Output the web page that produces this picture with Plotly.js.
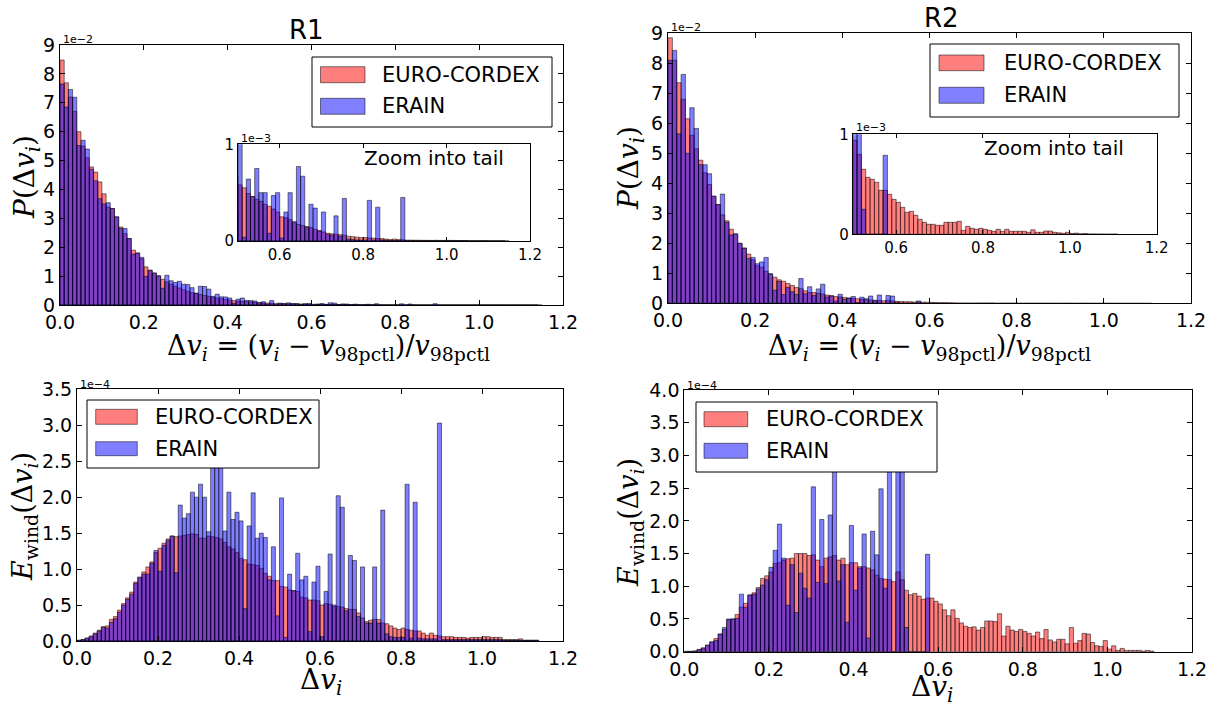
<!DOCTYPE html>
<html>
<head>
<meta charset="utf-8">
<script src="https://cdn.plot.ly/plotly-3.0.1.min.js"></script>
<style>
html,body{margin:0;padding:0;background:#fff;}
#chart{width:1217px;height:709px;}
</style>
</head>
<body>
<div id="chart"></div>
<script>
// ---------------- data ----------------
// Histogram bins: width 0.01 starting at 0.0 (bin k covers [0.01k, 0.01(k+1)))
const bin_width = 0.01;
const bin_start = 0.0;

const series_names = ['EURO-CORDEX', 'ERAIN'];

// R1: P(Δv_i), units of 1e-3
const r1_p_euro = [
 84.8, 76.9, 72.0, 67.0, 60.0, 55.0, 51.0, 47.8, 46.0, 42.6,
 38.5, 33.9, 33.4, 30.5, 27.0, 24.7, 23.0, 19.0, 18.0, 16.0,
 13.2, 12.1, 11.1, 10.1, 8.9, 8.0, 7.2, 6.5, 5.9, 5.3,
 4.7, 4.27, 3.98, 3.63, 3.31, 3.0, 2.68, 2.37, 2.15, 1.92,
 1.67, 1.53, 1.35, 1.25, 1.16, 1.05, 0.92, 0.83, 0.73, 0.68,
 0.58, 0.55, 0.49, 0.46, 0.43, 0.41, 0.38, 0.36, 0.33, 0.30,
 0.25, 0.24, 0.22, 0.19, 0.17, 0.16, 0.15, 0.14, 0.12, 0.11,
 0.094, 0.08, 0.075, 0.07, 0.065, 0.06, 0.05, 0.045, 0.04, 0.035,
 0.036, 0.03, 0.03, 0.025, 0.025, 0.02, 0.015, 0.02, 0.015, 0.012,
 0.009, 0.009, 0.008, 0.008, 0.007, 0.007, 0.006, 0.007, 0.006, 0.006,
 0.0064, 0.006, 0.005, 0.005, 0.005, 0.002, 0.002, 0.002, 0.002, 0.003,
 0.001, 0.001, 0.001, 0.001, 0.001
];
const r1_p_erain = [
 76.5, 68.5, 74.6, 71.9, 55.2, 57.0, 54.0, 47.0, 43.0, 36.8,
 35.0, 35.4, 33.4, 30.5, 26.5, 26.5, 23.0, 17.6, 18.0, 16.5,
 9.9, 11.9, 11.0, 10.1, 5.8, 10.3, 8.4, 7.8, 8.2, 7.2,
 7.1, 6.0, 4.15, 6.5, 6.4, 5.5, 3.0, 3.74, 2.84, 2.79,
 2.42, 0.61, 2.02, 2.43, 1.58, 1.56, 1.4, 0.78, 1.13, 0.29,
 1.53, 0.04, 0.64, 0.46, 0.75, 0.5, 0.5, 0.08, 0.47, 0.5,
 0.03, 0.3, 0.5, 0.2, 0.77, 0.67, 0.14, 0.38, 0.34, 0.1,
 0.3, 0.07, 0.06, 0.26, 0.05, 0.44, 0.02, 0.015, 0.01, 0.01,
 0.01, 0.42, 0.01, 0.35, 0.01, 0.006, 0.005, 0.005, 0.005, 0.45,
 0.003, 0.003, 0.003, 0.003, 0.003, 0.003, 0.002, 0.002, 0.002, 0.002,
 0.002, 0.002, 0.002, 0.002, 0.002, 0.001, 0.001, 0.001, 0.001, 0.001,
 0.001, 0.001, 0.001, 0.001
];

// R2: P(Δv_i), units of 1e-3
const r2_p_euro = [
 88.5, 81.0, 73.5, 68.0, 61.5, 56.0, 51.5, 47.7, 43.5, 39.6,
 35.7, 32.9, 29.5, 27.5, 24.7, 23.0, 20.0, 18.4, 16.4, 14.5,
 12.5, 12.05, 10.66, 9.68, 8.71, 7.82, 7.35, 6.6, 5.96, 5.29,
 4.84, 4.18, 3.55, 3.58, 3.33, 3.11, 2.74, 2.59, 2.23, 2.12,
 1.97, 1.76, 1.65, 1.51, 1.38, 1.21, 1.09, 1.02, 0.95, 0.87,
 0.94, 0.8, 0.65, 0.57, 0.55, 0.52, 0.44, 0.44, 0.4, 0.35,
 0.32, 0.27, 0.22, 0.23, 0.19, 0.15, 0.12, 0.1, 0.1, 0.09,
 0.09, 0.12, 0.12, 0.12, 0.13, 0.04, 0.08, 0.06, 0.05, 0.06,
 0.05, 0.04, 0.03, 0.05, 0.03, 0.05, 0.03, 0.03, 0.03, 0.03,
 0.02, 0.045, 0.02, 0.02, 0.033, 0.033, 0.02, 0.015, 0.01, 0.02,
 0.008, 0.012, 0.005, 0.008, 0.004, 0.004, 0.003, 0.003, 0.002, 0.002,
 0.003
];
const r2_p_erain = [
 81.0, 84.3, 56.5, 76.3, 50.0, 65.2, 58.3, 46.2, 46.2, 43.2,
 35.7, 32.9, 36.4, 27.0, 22.8, 23.2, 20.0, 18.4, 15.0, 15.3,
 13.2, 13.8, 15.3, 9.9, 4.36, 7.28, 2.94, 5.29, 3.86, 2.95,
 8.25, 3.16, 5.51, 2.6, 4.8, 6.36, 2.11, 2.41, 0.76, 3.0,
 1.36, 1.73, 2.28, 0.25, 2.04, 1.54, 2.43, 0.89, 2.77, 0.0,
 2.6, 2.4, 0.25, 0.0, 0.0, 0.0, 0.0, 0.79
];

// R1: E_wind(Δv_i), units of 1e-4
const r1_e_euro = [
 0.01, 0.02, 0.04, 0.07, 0.11, 0.15, 0.2, 0.21, 0.3, 0.34,
 0.43, 0.52, 0.6, 0.68, 0.82, 0.89, 0.96, 1.03, 1.1, 1.23,
 1.29, 1.36, 1.42, 1.46, 1.45, 1.46, 1.47, 1.48, 1.49, 1.48,
 1.43, 1.43, 1.46, 1.45, 1.44, 1.42, 1.37, 1.31, 1.28, 1.23,
 1.15, 1.13, 1.07, 1.06, 1.05, 1.01, 0.94, 0.9, 0.84, 0.84,
 0.76, 0.75, 0.71, 0.7, 0.69, 0.61, 0.6, 0.57, 0.57, 0.56,
 0.5, 0.52, 0.51, 0.48, 0.48, 0.47, 0.45, 0.44, 0.44, 0.39,
 0.32, 0.27, 0.29, 0.3, 0.3, 0.25, 0.24, 0.21, 0.18, 0.16,
 0.18, 0.16, 0.15, 0.14, 0.14, 0.11, 0.08, 0.11, 0.08, 0.07,
 0.06, 0.06, 0.06, 0.05, 0.05, 0.05, 0.04, 0.05, 0.05, 0.05,
 0.06, 0.06, 0.05, 0.05, 0.05, 0.02, 0.02, 0.02, 0.02, 0.03,
 0.01, 0.01, 0.01, 0.01
];
const r1_e_erain = [
 0.01, 0.02, 0.04, 0.06, 0.1, 0.14, 0.19, 0.18, 0.26, 0.31,
 0.4, 0.5, 0.58, 0.65, 0.8, 0.88, 0.93, 0.93, 1.08, 1.26,
 0.97, 1.33, 1.4, 1.46, 0.95, 1.89, 1.71, 1.77, 2.07, 2.0,
 2.18, 2.0, 1.52, 2.6, 2.8, 2.6, 1.53, 2.07, 1.69, 1.79,
 1.67, 0.45, 1.6, 2.06, 1.43, 1.5, 1.44, 0.85, 1.31, 0.35,
 1.99, 0.05, 0.93, 0.7, 1.22, 0.85, 0.9, 0.13, 0.82, 1.04,
 0.06, 0.69, 1.21, 0.5, 2.02, 1.86, 0.42, 1.19, 1.12, 0.34,
 1.03, 0.25, 0.25, 1.03, 0.25, 1.82, 0.1, 0.06, 0.05, 0.05,
 0.05, 2.18, 0.04, 1.93, 0.04, 0.03, 0.03, 0.03, 0.03, 3.03,
 0.02, 0.02, 0.02, 0.02, 0.02, 0.02, 0.02, 0.02, 0.02, 0.02,
 0.02, 0.02, 0.02, 0.02, 0.02, 0.01, 0.01, 0.01, 0.01, 0.01,
 0.01, 0.01, 0.01, 0.01
];

// R2: E_wind(Δv_i), units of 1e-4
const r2_e_euro = [
 0.005, 0.005, 0.01, 0.035, 0.06, 0.1, 0.15, 0.2, 0.27, 0.34,
 0.49, 0.5, 0.57, 0.68, 0.74, 0.86, 0.9, 0.98, 1.12, 1.16,
 1.22, 1.35, 1.36, 1.4, 1.42, 1.43, 1.5, 1.5, 1.5, 1.47,
 1.48, 1.4, 1.3, 1.43, 1.45, 1.47, 1.4, 1.43, 1.33, 1.36,
 1.36, 1.3, 1.3, 1.28, 1.25, 1.17, 1.12, 1.11, 1.1, 1.07,
 1.22, 1.1, 0.94, 0.87, 0.89, 0.85, 0.8, 0.82, 0.82, 0.77,
 0.73, 0.64, 0.55, 0.64, 0.51, 0.44, 0.39, 0.37, 0.38, 0.33,
 0.37, 0.47, 0.47, 0.46, 0.58, 0.24, 0.39, 0.33, 0.31, 0.34,
 0.31, 0.28, 0.24, 0.3, 0.2, 0.34, 0.18, 0.15, 0.19, 0.19,
 0.12, 0.37, 0.13, 0.17, 0.28, 0.27, 0.14, 0.09, 0.08, 0.17,
 0.04, 0.09, 0.02, 0.05, 0.02, 0.02, 0.02, 0.02, 0.01, 0.02,
 0.01
];
const r2_e_erain = [
 0.005, 0.005, 0.01, 0.03, 0.05, 0.1, 0.15, 0.17, 0.27, 0.37,
 0.5, 0.5, 0.51, 0.88, 0.68, 0.87, 0.88, 0.96, 1.02, 1.1,
 1.29, 1.55, 1.95, 1.43, 0.71, 1.33, 0.6, 1.2, 0.97, 0.82,
 2.52, 1.06, 2.02, 1.04, 2.09, 3.0, 1.08, 1.33, 0.45, 1.93,
 0.94, 1.28, 1.8, 0.21, 1.84, 1.48, 2.49, 0.97, 3.2, 0.0,
 3.4, 3.3, 0.37, 0.0, 0.0, 0.0, 0.0, 1.49
];

// tick labels
const main_x_ticks = [0, 0.2, 0.4, 0.6, 0.8, 1.0, 1.2];
const main_x_labels = ['0.0', '0.2', '0.4', '0.6', '0.8', '1.0', '1.2'];
const inset_x_ticks = [0.6, 0.8, 1.0, 1.2];
const inset_x_labels = ['0.6', '0.8', '1.0', '1.2'];
const p_y_ticks = [0, 10, 20, 30, 40, 50, 60, 70, 80, 90];
const p_y_labels = ['0', '1', '2', '3', '4', '5', '6', '7', '8', '9'];
const inset_y_ticks = [0, 1];
const inset_y_labels = ['0', '1'];
const e1_y_ticks = [0, 0.5, 1.0, 1.5, 2.0, 2.5, 3.0, 3.5];
const e1_y_labels = ['0.0', '0.5', '1.0', '1.5', '2.0', '2.5', '3.0', '3.5'];
const e2_y_ticks = [0, 0.5, 1.0, 1.5, 2.0, 2.5, 3.0, 3.5, 4.0];
const e2_y_labels = ['0.0', '0.5', '1.0', '1.5', '2.0', '2.5', '3.0', '3.5', '4.0'];

// ---------------- styling / layout ----------------
const W = 1217, H = 709;
const px = v => v / W;
const py = v => 1 - v / H;

const RED = 'rgba(255,0,0,0.5)';
const BLUE = 'rgba(0,0,255,0.5)';
const EDGE = 'rgba(0,0,0,0.5)';
const SANS = 'DejaVu Sans';
const SERIF = 'DejaVu Serif';

function bars(vals, color, xa, ya, name) {
  return {
    type: 'bar', name: name, y: vals,
    x0: bin_start + bin_width / 2, dx: bin_width, width: bin_width,
    xaxis: xa, yaxis: ya,
    marker: {color: color, line: {color: EDGE, width: 1}},
    showlegend: false, hoverinfo: 'skip'
  };
}

const data = [
  bars(r1_p_euro, RED, 'x', 'y', series_names[0]),
  bars(r1_p_erain, BLUE, 'x', 'y', series_names[1]),
  bars(r2_p_euro, RED, 'x2', 'y2', series_names[0]),
  bars(r2_p_erain, BLUE, 'x2', 'y2', series_names[1]),
  bars(r1_e_euro, RED, 'x3', 'y3', series_names[0]),
  bars(r1_e_erain, BLUE, 'x3', 'y3', series_names[1]),
  bars(r2_e_euro, RED, 'x4', 'y4', series_names[0]),
  bars(r2_e_erain, BLUE, 'x4', 'y4', series_names[1]),
  bars(r1_p_euro, RED, 'x5', 'y5', series_names[0]),
  bars(r1_p_erain, BLUE, 'x5', 'y5', series_names[1]),
  bars(r2_p_euro, RED, 'x6', 'y6', series_names[0]),
  bars(r2_p_erain, BLUE, 'x6', 'y6', series_names[1])
];

function axis(domain, range, anchor, tv, tt, fs, extra) {
  return Object.assign({
    domain: domain, range: range, anchor: anchor,
    tickmode: 'array', tickvals: tv, ticktext: tt,
    showline: true, linecolor: 'black', linewidth: 1, mirror: 'ticks',
    ticks: 'inside', ticklen: 5, tickwidth: 1, tickcolor: 'black',
    showgrid: false, zeroline: false, fixedrange: true,
    tickfont: {family: SANS, size: fs, color: 'black'}
  }, extra || {});
}

const dTL = {x: [px(60), px(563)], y: [py(305), py(45)]};
const dTR = {x: [px(668), px(1191)], y: [py(303.3), py(33.3)]};
const dBL = {x: [px(77), px(563)], y: [py(641), py(389.3)]};
const dBR = {x: [px(684.3), px(1192)], y: [py(651.7), py(390)]};
const dI1 = {x: [px(238), px(530)], y: [py(241), py(144.3)]};
const dI2 = {x: [px(852.7), px(1156.7)], y: [py(234.3), py(134.3)]};

const layout = {
  width: W, height: H,
  margin: {l: 0, r: 0, t: 0, b: 0},
  paper_bgcolor: 'white', plot_bgcolor: 'white',
  barmode: 'overlay', showlegend: false,
  font: {family: SANS, color: 'black'},
  xaxis: axis(dTL.x, [0, 1.2], 'y', main_x_ticks, main_x_labels, 19),
  yaxis: axis(dTL.y, [0, 90], 'x', p_y_ticks, p_y_labels, 19),
  xaxis2: axis(dTR.x, [0, 1.2], 'y2', main_x_ticks, main_x_labels, 19),
  yaxis2: axis(dTR.y, [0, 90], 'x2', p_y_ticks, p_y_labels, 19),
  xaxis3: axis(dBL.x, [0, 1.2], 'y3', main_x_ticks, main_x_labels, 19),
  yaxis3: axis(dBL.y, [0, 3.5], 'x3', e1_y_ticks, e1_y_labels, 19),
  xaxis4: axis(dBR.x, [0, 1.2], 'y4', main_x_ticks, main_x_labels, 19),
  yaxis4: axis(dBR.y, [0, 4.0], 'x4', e2_y_ticks, e2_y_labels, 19),
  xaxis5: axis(dI1.x, [0.5, 1.2], 'y5', inset_x_ticks, inset_x_labels, 15, {ticklen: 4}),
  yaxis5: axis(dI1.y, [0, 1], 'x5', inset_y_ticks, inset_y_labels, 15, {ticklen: 4}),
  xaxis6: axis(dI2.x, [0.5, 1.2], 'y6', inset_x_ticks, inset_x_labels, 15, {ticklen: 4}),
  yaxis6: axis(dI2.y, [0, 1], 'x6', inset_y_ticks, inset_y_labels, 15, {ticklen: 4}),
  shapes: [],
  annotations: []
};

function txt(x, y, text, size, family, opts) {
  return Object.assign({
    xref: 'paper', yref: 'paper', x: px(x), y: py(y), text: text,
    showarrow: false, xanchor: 'center', yanchor: 'middle',
    font: {family: family || SANS, size: size, color: 'black'}
  }, opts || {});
}
function rect(x0, y0, x1, y1, fill, line) {
  return {type: 'rect', xref: 'paper', yref: 'paper', layer: 'above',
    x0: px(x0), x1: px(x1), y0: py(y1), y1: py(y0),
    fillcolor: fill, line: line};
}

// legends (box, colour patches, labels)
function legend(bx0, by0, bx1, by1, patchX0, patchX1, r0, r1, b0, b1, textX) {
  layout.shapes.push(rect(bx0, by0, bx1, by1, 'white', {color: 'black', width: 1}));
  layout.shapes.push(rect(patchX0, r0, patchX1, r1, RED, {color: EDGE, width: 1}));
  layout.shapes.push(rect(patchX0, b0, patchX1, b1, BLUE, {color: EDGE, width: 1}));
  layout.annotations.push(txt(textX, (r0 + r1) / 2, series_names[0], 21, SANS, {xanchor: 'left'}));
  layout.annotations.push(txt(textX, (b0 + b1) / 2, series_names[1], 21, SANS, {xanchor: 'left'}));
}
legend(312, 57, 552, 127, 320.5, 365, 66.7, 82.7, 98.3, 114.3, 380);
legend(930, 44, 1179, 117, 939, 984, 55, 70.7, 87.3, 103.3, 1002);
legend(87, 400, 319, 468, 95.7, 137.3, 409.3, 424.3, 441.7, 455.7, 153);
legend(696, 402, 937, 472, 704, 747.7, 411.7, 426.7, 443.3, 458.3, 764);

// titles
layout.annotations.push(txt(306, 30, 'R1', 26));
layout.annotations.push(txt(941, 18, 'R2', 26));

// offset (scale) labels
layout.annotations.push(txt(61, 39, '1e\u22122', 11, SANS, {xanchor: 'left'}));
layout.annotations.push(txt(669, 27, '1e\u22122', 11, SANS, {xanchor: 'left'}));
layout.annotations.push(txt(78, 384, '1e\u22124', 11, SANS, {xanchor: 'left'}));
layout.annotations.push(txt(685, 385, '1e\u22124', 11, SANS, {xanchor: 'left'}));
layout.annotations.push(txt(239, 138, '1e\u22123', 11, SANS, {xanchor: 'left'}));
layout.annotations.push(txt(854, 128, '1e\u22123', 11, SANS, {xanchor: 'left'}));

// inset labels
layout.annotations.push(txt(362, 158, 'Zoom into tail', 20, SANS, {xanchor: 'left'}));
layout.annotations.push(txt(982, 148, 'Zoom into tail', 20, SANS, {xanchor: 'left'}));

// axis titles (math-like)
const Pdv = '<i>P</i>(\u0394<i>v</i><sub><i>i</i></sub>)';
const Ewd = '<i>E</i><sub>wind</sub>(\u0394<i>v</i><sub><i>i</i></sub>)';
const dvi = '\u0394<i>v</i><sub><i>i</i></sub>';
const dvdef = '\u0394<i>v</i><sub><i>i</i></sub> = (<i>v</i><sub><i>i</i></sub> \u2212 <i>v</i><sub>98pctl</sub>)/<i>v</i><sub>98pctl</sub>';
layout.annotations.push(txt(26, 177, Pdv, 28, SERIF, {textangle: -90}));
layout.annotations.push(txt(631, 168, Pdv, 28, SERIF, {textangle: -90}));
layout.annotations.push(txt(24, 517, Ewd, 27, SERIF, {textangle: -90}));
layout.annotations.push(txt(630, 523, Ewd, 27, SERIF, {textangle: -90}));
layout.annotations.push(txt(328, 347, dvdef, 27, SERIF));
layout.annotations.push(txt(929, 347, dvdef, 27, SERIF));
layout.annotations.push(txt(321, 681, dvi, 28, SERIF));
layout.annotations.push(txt(932, 688, dvi, 28, SERIF));

Plotly.newPlot('chart', data, layout, {staticPlot: true, displayModeBar: false});
</script>
</body>
</html>
